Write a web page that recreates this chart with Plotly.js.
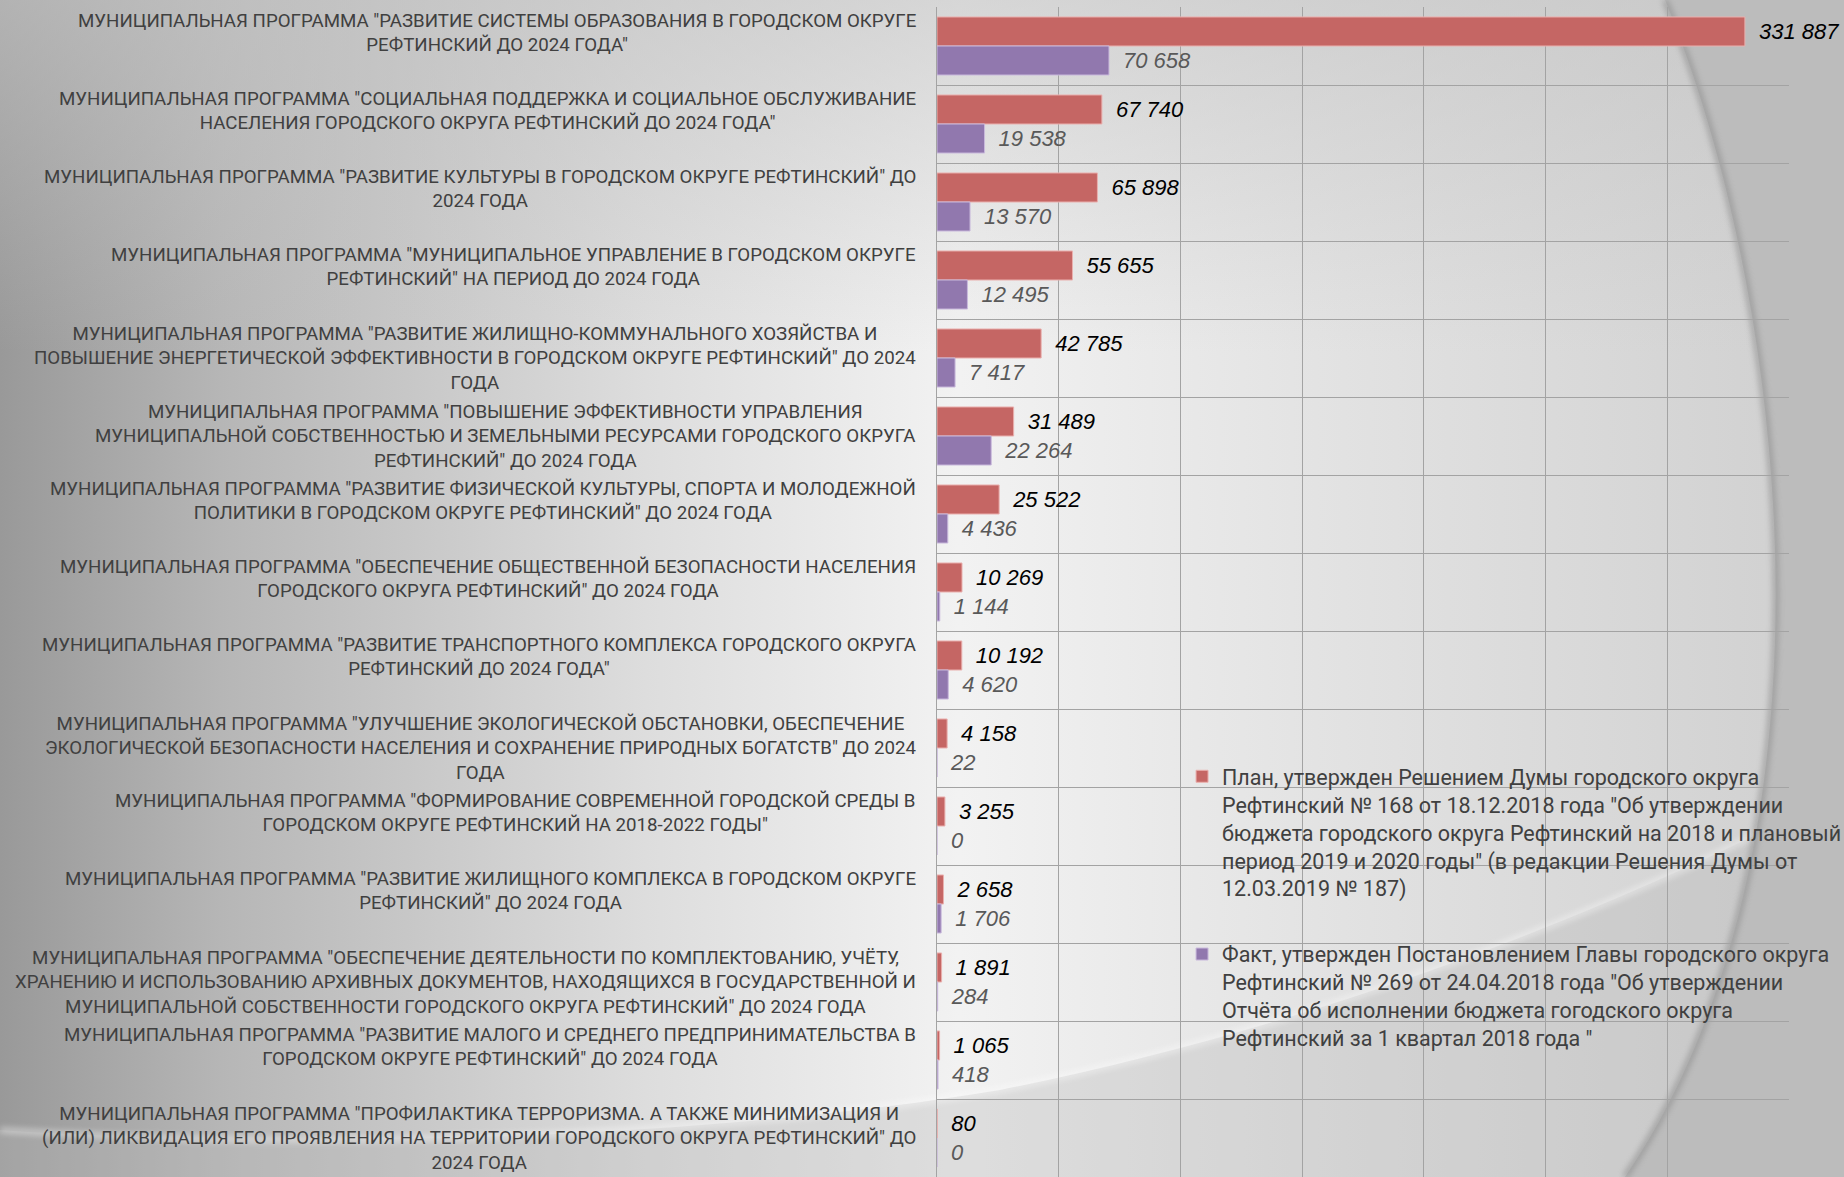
<!DOCTYPE html>
<html>
<head>
<meta charset="utf-8">
<script src="https://cdn.plot.ly/plotly-3.0.1.min.js"></script>
<style>
html,body{margin:0;padding:0;}
#wrap{position:relative;width:1844px;height:1177px;overflow:hidden;}
#bg{position:absolute;left:0;top:0;}
#chart{position:absolute;left:0;top:0;width:1844px;height:1177px;}
</style>
</head>
<body>
<div id="wrap">
<svg id="bg" width="1844" height="1177" xmlns="http://www.w3.org/2000/svg">
  <defs>
    <linearGradient id="base" x1="0" y1="0" x2="1" y2="0">
      <stop offset="0" stop-color="#999999"/>
      <stop offset="0.12" stop-color="#b6b6b6"/>
      <stop offset="0.35" stop-color="#dddddd"/>
      <stop offset="0.52" stop-color="#f2f2f2"/>
      <stop offset="0.7" stop-color="#e4e4e4"/>
      <stop offset="1" stop-color="#cfcfcf"/>
    </linearGradient>
    <linearGradient id="topfade" x1="0" y1="0" x2="0" y2="1">
      <stop offset="0" stop-color="#c4c4c4" stop-opacity="0.6"/>
      <stop offset="0.3" stop-color="#c4c4c4" stop-opacity="0"/>
    </linearGradient>
    <filter id="blur"><feGaussianBlur stdDeviation="3"/></filter>
  </defs>
  <rect x="0" y="0" width="1844" height="1177" fill="url(#base)"/>
  <rect x="0" y="0" width="1844" height="1177" fill="url(#topfade)"/>
  <path d="M0,1177 L0,1130 C300,1150 700,1140 1000,1090 C1300,1030 1600,920 1844,790 L1844,1177 Z" fill="#b8b8b8" opacity="0.35"/>
  <path d="M0,1130 C300,1150 700,1140 1000,1090 C1300,1030 1600,920 1844,790" fill="none" stroke="#ffffff" stroke-width="5" opacity="0.5" filter="url(#blur)"/>
  <path d="M1665,0 C1740,180 1790,450 1772,700 C1758,900 1705,1060 1625,1177 L1844,1177 L1844,0 Z" fill="#bcbcbc"/>
  <path d="M1665,0 C1740,180 1790,450 1772,700 C1758,900 1705,1060 1625,1177" fill="none" stroke="#8c8c8c" stroke-width="5" filter="url(#blur)" opacity="0.8"/>
</svg>
<div id="chart"></div>
</div>
<script>
const categories = [
  'МУНИЦИПАЛЬНАЯ ПРОГРАММА "РАЗВИТИЕ СИСТЕМЫ ОБРАЗОВАНИЯ В ГОРОДСКОМ ОКРУГЕ<br>РЕФТИНСКИЙ ДО 2024 ГОДА"',
  'МУНИЦИПАЛЬНАЯ ПРОГРАММА "СОЦИАЛЬНАЯ ПОДДЕРЖКА И СОЦИАЛЬНОЕ ОБСЛУЖИВАНИЕ<br>НАСЕЛЕНИЯ ГОРОДСКОГО ОКРУГА РЕФТИНСКИЙ ДО 2024 ГОДА"',
  'МУНИЦИПАЛЬНАЯ ПРОГРАММА "РАЗВИТИЕ КУЛЬТУРЫ В ГОРОДСКОМ ОКРУГЕ РЕФТИНСКИЙ" ДО<br>2024 ГОДА',
  'МУНИЦИПАЛЬНАЯ ПРОГРАММА "МУНИЦИПАЛЬНОЕ УПРАВЛЕНИЕ В ГОРОДСКОМ ОКРУГЕ<br>РЕФТИНСКИЙ" НА ПЕРИОД ДО 2024 ГОДА',
  'МУНИЦИПАЛЬНАЯ ПРОГРАММА "РАЗВИТИЕ ЖИЛИЩНО-КОММУНАЛЬНОГО ХОЗЯЙСТВА И<br>ПОВЫШЕНИЕ ЭНЕРГЕТИЧЕСКОЙ ЭФФЕКТИВНОСТИ В ГОРОДСКОМ ОКРУГЕ РЕФТИНСКИЙ" ДО 2024<br>ГОДА',
  'МУНИЦИПАЛЬНАЯ ПРОГРАММА "ПОВЫШЕНИЕ ЭФФЕКТИВНОСТИ УПРАВЛЕНИЯ<br>МУНИЦИПАЛЬНОЙ СОБСТВЕННОСТЬЮ И ЗЕМЕЛЬНЫМИ РЕСУРСАМИ ГОРОДСКОГО ОКРУГА<br>РЕФТИНСКИЙ" ДО 2024 ГОДА',
  'МУНИЦИПАЛЬНАЯ ПРОГРАММА "РАЗВИТИЕ ФИЗИЧЕСКОЙ КУЛЬТУРЫ, СПОРТА И МОЛОДЕЖНОЙ<br>ПОЛИТИКИ В ГОРОДСКОМ ОКРУГЕ РЕФТИНСКИЙ" ДО 2024 ГОДА',
  'МУНИЦИПАЛЬНАЯ ПРОГРАММА "ОБЕСПЕЧЕНИЕ ОБЩЕСТВЕННОЙ БЕЗОПАСНОСТИ НАСЕЛЕНИЯ<br>ГОРОДСКОГО ОКРУГА РЕФТИНСКИЙ" ДО 2024 ГОДА',
  'МУНИЦИПАЛЬНАЯ ПРОГРАММА "РАЗВИТИЕ ТРАНСПОРТНОГО КОМПЛЕКСА ГОРОДСКОГО ОКРУГА<br>РЕФТИНСКИЙ ДО 2024 ГОДА"',
  'МУНИЦИПАЛЬНАЯ ПРОГРАММА "УЛУЧШЕНИЕ ЭКОЛОГИЧЕСКОЙ ОБСТАНОВКИ, ОБЕСПЕЧЕНИЕ<br>ЭКОЛОГИЧЕСКОЙ БЕЗОПАСНОСТИ НАСЕЛЕНИЯ И СОХРАНЕНИЕ ПРИРОДНЫХ БОГАТСТВ" ДО 2024<br>ГОДА',
  'МУНИЦИПАЛЬНАЯ ПРОГРАММА "ФОРМИРОВАНИЕ СОВРЕМЕННОЙ ГОРОДСКОЙ СРЕДЫ В<br>ГОРОДСКОМ ОКРУГЕ РЕФТИНСКИЙ НА 2018-2022 ГОДЫ"',
  'МУНИЦИПАЛЬНАЯ ПРОГРАММА "РАЗВИТИЕ ЖИЛИЩНОГО КОМПЛЕКСА В ГОРОДСКОМ ОКРУГЕ<br>РЕФТИНСКИЙ" ДО 2024 ГОДА',
  'МУНИЦИПАЛЬНАЯ ПРОГРАММА "ОБЕСПЕЧЕНИЕ ДЕЯТЕЛЬНОСТИ ПО КОМПЛЕКТОВАНИЮ, УЧЁТУ,<br>ХРАНЕНИЮ И ИСПОЛЬЗОВАНИЮ АРХИВНЫХ ДОКУМЕНТОВ, НАХОДЯЩИХСЯ В ГОСУДАРСТВЕННОЙ И<br>МУНИЦИПАЛЬНОЙ СОБСТВЕННОСТИ ГОРОДСКОГО ОКРУГА РЕФТИНСКИЙ" ДО 2024 ГОДА',
  'МУНИЦИПАЛЬНАЯ ПРОГРАММА "РАЗВИТИЕ МАЛОГО И СРЕДНЕГО ПРЕДПРИНИМАТЕЛЬСТВА В<br>ГОРОДСКОМ ОКРУГЕ РЕФТИНСКИЙ" ДО 2024 ГОДА',
  'МУНИЦИПАЛЬНАЯ ПРОГРАММА "ПРОФИЛАКТИКА ТЕРРОРИЗМА. А ТАКЖЕ МИНИМИЗАЦИЯ И<br>(ИЛИ) ЛИКВИДАЦИЯ ЕГО ПРОЯВЛЕНИЯ НА ТЕРРИТОРИИ ГОРОДСКОГО ОКРУГА РЕФТИНСКИЙ" ДО<br>2024 ГОДА'
];

const planValues = [331887, 67740, 65898, 55655, 42785, 31489, 25522, 10269, 10192, 4158, 3255, 2658, 1891, 1065, 80];
const factValues = [70658, 19538, 13570, 12495, 7417, 22264, 4436, 1144, 4620, 22, 0, 1706, 284, 418, 0];

const planName = 'План, утвержден Решением Думы городского округа<br>Рефтинский № 168 от 18.12.2018 года "Об утверждении<br>бюджета городского округа Рефтинский на 2018 и плановый<br>период 2019 и 2020 годы" (в редакции Решения Думы от<br>12.03.2019 № 187)';
const factName = 'Факт, утвержден Постановлением Главы городского округа<br>Рефтинский № 269 от 24.04.2018 года "Об утверждении<br>Отчёта об исполнении бюджета гогодского округа<br>Рефтинский за 1 квартал 2018 года "';

const labelFont = 'Roboto, "Liberation Sans", sans-serif';

const traces = [
  {
    type: 'bar', orientation: 'h', name: planName, legendgroup: 'plan',
    y: categories, x: planValues,
    marker: {color: '#c56664', line: {color: '#eab0ae', width: 1}},
    texttemplate: '\u2002%{x:,}', textposition: 'outside', cliponaxis: false,
    textfont: {family: '"Liberation Sans", Arial, sans-serif', size: 22, color: '#000000', style: 'italic'},
    hoverinfo: 'x'
  },
  {
    type: 'bar', orientation: 'h', name: factName, legendgroup: 'fact',
    y: categories, x: factValues,
    marker: {color: '#9178ae', line: {color: '#c9b9dc', width: 1}},
    texttemplate: '\u2002%{x:,}', textposition: 'outside', cliponaxis: false,
    textfont: {family: '"Liberation Sans", Arial, sans-serif', size: 22, color: '#595959', style: 'italic'},
    hoverinfo: 'x'
  }
];

const annotations = categories.map(function (c) {
  const lines = c.split('<br>').length;
  return {
    xref: 'paper', yref: 'y', x: -0.0225, y: c,
    xanchor: 'right', yanchor: 'middle', align: 'center',
    yshift: lines === 2 ? 13 : 0,
    text: c, showarrow: false,
    font: {family: labelFont, size: 18.7, color: '#404040'}
  };
});

const layout = {
  width: 1844, height: 1177,
  margin: {l: 937, r: 55, t: 7, b: 0, pad: 0, autoexpand: false},
  paper_bgcolor: 'rgba(0,0,0,0)',
  plot_bgcolor: 'rgba(0,0,0,0)',
  separators: ', ',
  barmode: 'group',
  bargap: 0.256,
  bargroupgap: 0,
  showlegend: true,
  legend: {
    x: 0.2876, xanchor: 'left', y: 0.36, yanchor: 'top',
    bgcolor: 'rgba(0,0,0,0)', borderwidth: 0,
    traceorder: 'grouped', tracegroupgap: 35, valign: 'top',
    font: {family: labelFont, size: 21.5, color: '#404040'}
  },
  xaxis: {
    range: [0, 350000], dtick: 50000, tick0: 0,
    showticklabels: false, ticks: '',
    showgrid: true, gridcolor: '#a3a3a3', gridwidth: 1,
    zeroline: false, showline: false, fixedrange: true
  },
  yaxis: {
    type: 'category', autorange: false, range: [14.5, -0.5],
    tickson: 'boundaries', ticks: '', showticklabels: false,
    showgrid: true, gridcolor: '#a3a3a3', gridwidth: 1,
    showline: true, linecolor: '#a3a3a3', linewidth: 1,
    zeroline: false, fixedrange: true
  },
  annotations: annotations,
  font: {family: labelFont}
};

Plotly.newPlot('chart', traces, layout, {displayModeBar: false, staticPlot: true});
</script>
</body>
</html>
